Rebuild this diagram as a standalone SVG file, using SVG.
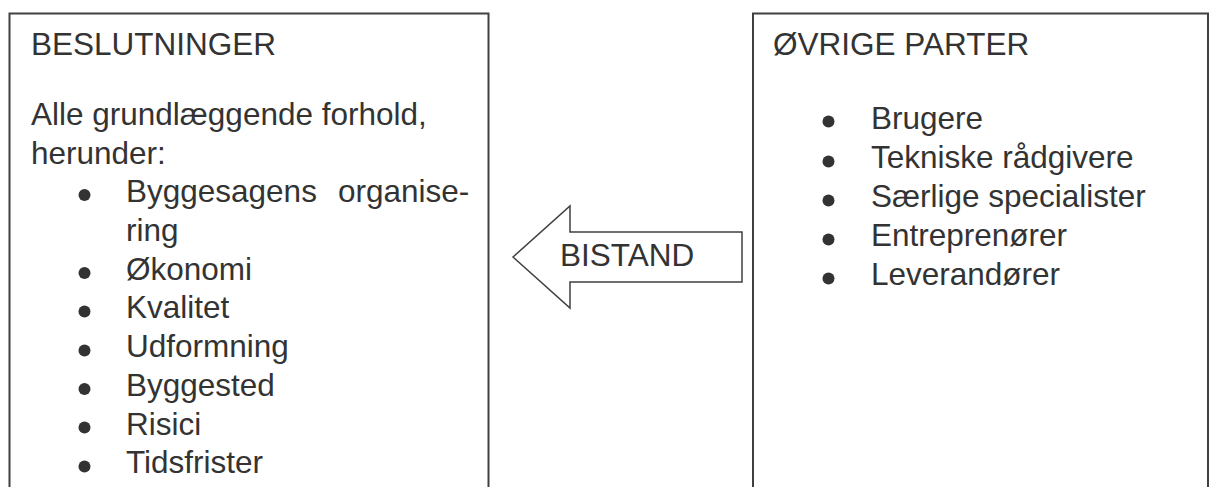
<svg xmlns="http://www.w3.org/2000/svg" width="1211" height="487" viewBox="0 0 1211 487">
  <style>
    .box { fill: #ffffff; stroke: #404040; stroke-width: 2; }
    .arrow { fill: #ffffff; stroke: #404040; stroke-width: 1.5; stroke-linejoin: miter; }
    .txt { font-family: "Liberation Sans", Arial, sans-serif; font-size: 31.5px; fill: #333333; }
    .dot { fill: #333333; }
  </style>
  <rect width="1211" height="487" fill="#ffffff"/>

  <!-- Decisions box -->
  <g id="beslutninger">
    <rect class="box" x="9.5" y="13.5" width="479" height="500"/>
    <text class="txt" x="31" y="55">BESLUTNINGER</text>
    <text class="txt" x="31" y="125">Alle grundlæggende forhold,</text>
    <text class="txt" x="31" y="163.5">herunder:</text>
    <g class="dot">
      <circle cx="84.5" cy="195" r="6"/>
      <circle cx="84.5" cy="273" r="6"/>
      <circle cx="84.5" cy="311.5" r="6"/>
      <circle cx="84.5" cy="350.5" r="6"/>
      <circle cx="84.5" cy="389" r="6"/>
      <circle cx="84.5" cy="427.5" r="6"/>
      <circle cx="84.5" cy="466.5" r="6"/>
    </g>
    <!-- justified, hyphenated first item -->
    <text class="txt" y="202"><tspan x="126">Byggesagens</tspan><tspan x="338">organise-</tspan></text>
    <text class="txt" x="126" y="240.5">ring</text>
    <text class="txt" x="126" y="279.5">Økonomi</text>
    <text class="txt" x="126" y="318">Kvalitet</text>
    <text class="txt" x="126" y="357">Udformning</text>
    <text class="txt" x="126" y="395.5">Byggested</text>
    <text class="txt" x="126" y="434.5">Risici</text>
    <text class="txt" x="126" y="473">Tidsfrister</text>
  </g>

  <!-- Other parties box -->
  <g id="oevrige-parter">
    <rect class="box" x="753" y="13.5" width="455" height="500"/>
    <text class="txt" x="773" y="55">ØVRIGE PARTER</text>
    <g class="dot">
      <circle cx="828.5" cy="121.5" r="6"/>
      <circle cx="828.5" cy="161.5" r="6"/>
      <circle cx="828.5" cy="200.5" r="6"/>
      <circle cx="828.5" cy="239.5" r="6"/>
      <circle cx="828.5" cy="278.5" r="6"/>
    </g>
    <text class="txt" x="871" y="129">Brugere</text>
    <text class="txt" x="871" y="168">Tekniske rådgivere</text>
    <text class="txt" x="871" y="207">Særlige specialister</text>
    <text class="txt" x="871" y="246">Entreprenører</text>
    <text class="txt" x="871" y="285">Leverandører</text>
  </g>

  <!-- Assistance arrow -->
  <g id="connectors">
    <g id="bistand">
      <polygon class="arrow" points="513,257 570,206 570,232 742,232 742,282 570,282 570,308"/>
      <text class="txt" x="560" y="266">BISTAND</text>
    </g>
  </g>
</svg>
